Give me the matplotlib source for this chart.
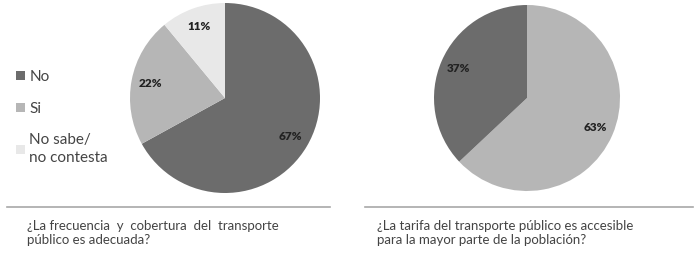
import matplotlib
matplotlib.use("Agg")
import matplotlib.pyplot as plt
from matplotlib.lines import Line2D

# data
labels = ["No", "Si", "No sabe/\nno contesta"]
frecuencia = [67, 22, 11]
tarifa = [63, 37]
colors_1 = ["#6c6c6c", "#b6b6b6", "#e8e8e8"]
colors_2 = ["#b6b6b6", "#6c6c6c"]
question_1 = "¿La frecuencia  y  cobertura  del  transporte\npúblico es adecuada?"
question_2 = "¿La tarifa del transporte público es accesible\npara la mayor parte de la población?"

W, H = 697, 254
plt.rcParams['font.family'] = ['Lato', 'DejaVu Sans']
fig = plt.figure(figsize=(W / 100, H / 100), dpi=100)
fig.patch.set_facecolor("white")


def pie_axes(cx, cy, r):
    return fig.add_axes([(cx - r) / W, (H - cy - r) / H, 2 * r / W, 2 * r / H])


def draw_pie(ax, values, colors):
    wedges, _, autotexts = ax.pie(values, colors=colors, startangle=90, counterclock=False,
                                  autopct=lambda p: f"{p:.0f}%", pctdistance=0.8,
                                  wedgeprops=dict(linewidth=0))
    for t in autotexts:
        t.set_fontsize(8.5)
        t.set_fontweight("heavy")
        t.set_color("#222222")
    ax.set_xlim(-1, 1)
    ax.set_ylim(-1, 1)
    ax.set_aspect("equal")
    ax.axis("off")
    return wedges


ax1 = pie_axes(225, 98, 95)
wedges = draw_pie(ax1, frecuencia, colors_1)
ax2 = pie_axes(527, 98, 93)
draw_pie(ax2, tarifa, colors_2)

fig.legend(wedges, labels, loc="upper left", bbox_to_anchor=(4 / W, 1 - 58 / H),
           frameon=False, fontsize=11, handlelength=0.55, handleheight=0.55,
           handletextpad=0.3, labelspacing=1.15, labelcolor="#444444",
           borderpad=0.3)
for t in fig.legends[0].get_texts():
    t.set_linespacing(1.3)

# separators
for x0, x1 in [(7, 330), (365, 693)]:
    fig.add_artist(Line2D([x0 / W, x1 / W], [1 - 207 / H, 1 - 207 / H],
                          color="#a8a8a8", lw=1.2))

fig.text(27 / W, 1 - 220 / H, question_1, fontsize=9.5, color="#444444",
         va="top", ha="left", linespacing=1.2)
fig.text(377 / W, 1 - 220 / H, question_2, fontsize=9.5, color="#444444",
         va="top", ha="left", linespacing=1.2)

fig.savefig("out.png", dpi=100, facecolor="white")
